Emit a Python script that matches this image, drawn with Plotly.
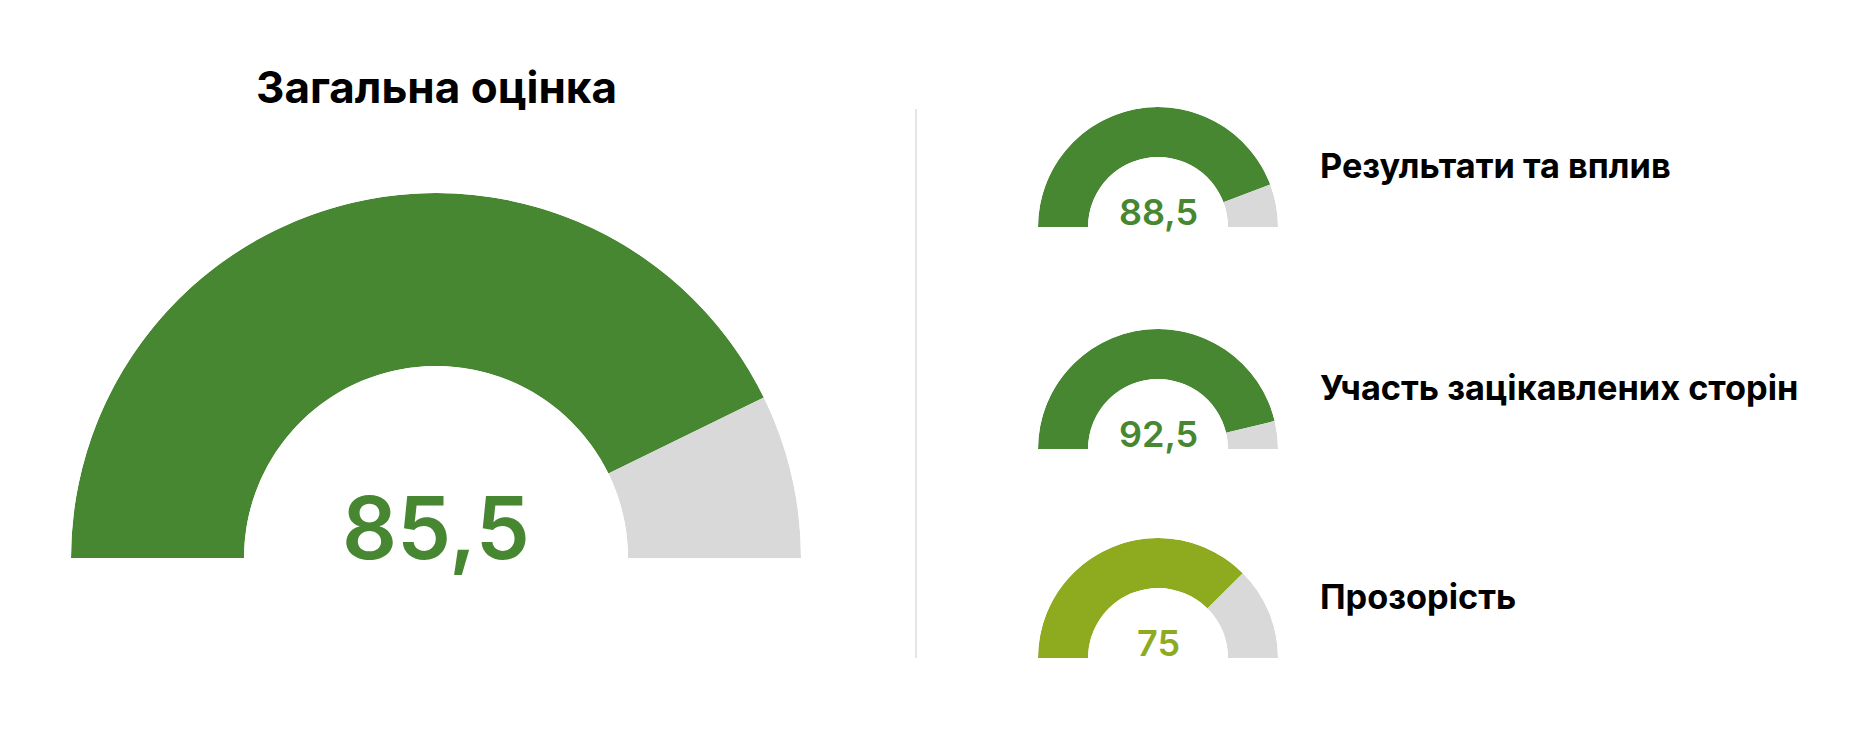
import plotly.graph_objects as go

# data
titles = ["Загальна оцінка", "Результати та вплив", "Участь зацікавлених сторін", "Прозорість"]
scores = [85.5, 88.5, 92.5, 75]
max_score = 100

W, H = 1868, 734
PAGE_MARGIN = 8  # default body margin of the html page
GREEN = "#488732"
LIME = "#8eab1f"
GRAY = "#d9d9d9"
FONT = "Inter"


def fx(px):
    return (px - PAGE_MARGIN) / W


def fy(px):
    # pixels from top of window -> paper
    return 1 - (px - PAGE_MARGIN) / H


def score_color(v):
    return GREEN if v >= 80 else LIME


def fmt(v):
    return ("%g" % v).replace(".", ",")


# gauge geometry in pixels: (center x, baseline y, outer radius, hole)
gauges = [
    (436, 558, 365, 0.526),
    (1158, 227, 120, 0.583),
    (1158, 449, 120, 0.583),
    (1158, 658, 120, 0.583),
]

fig = go.Figure()
layout_polars = {}
for i, (v, (cx, by, r, hole)) in enumerate(zip(scores, gauges)):
    name = "polar" if i == 0 else "polar%d" % (i + 1)
    rest = max_score - v
    fig.add_trace(
        go.Barpolar(
            r=[1, 1],
            theta=[v * 0.9, (v + rest / 2) * 1.8],
            width=[v * 1.8, rest * 1.8],
            marker=dict(color=[score_color(v), GRAY], line=dict(width=0)),
            subplot=name,
            hoverinfo="skip",
            showlegend=False,
        )
    )
    layout_polars[name] = dict(
        domain=dict(x=[fx(cx - r), fx(cx + r)], y=[fy(by), fy(by - r)]),
        sector=[0, 180],
        hole=hole,
        bgcolor="rgba(0,0,0,0)",
        radialaxis=dict(range=[0, 1], visible=False, showgrid=False),
        angularaxis=dict(
            direction="clockwise",
            rotation=180,
            visible=False,
            showgrid=False,
            showline=False,
        ),
    )

annotations = []
# main title
annotations.append(dict(
    text=titles[0], x=fx(436), y=fy(87), xref="paper", yref="paper",
    xanchor="center", yanchor="middle", showarrow=False,
    font=dict(family=FONT, size=44, weight=700, color="#000000"),
))
# big number
annotations.append(dict(
    text=fmt(scores[0]), x=fx(436), y=fy(528), xref="paper", yref="paper",
    xanchor="center", yanchor="middle", showarrow=False,
    font=dict(family=FONT, size=86, weight=600, color=score_color(scores[0])),
))
for t, v, (cx, by, r, hole) in zip(titles[1:], scores[1:], gauges[1:]):
    annotations.append(dict(
        text=fmt(v), x=fx(cx), y=fy(by - 15), xref="paper", yref="paper",
        xanchor="center", yanchor="middle", showarrow=False,
        font=dict(family=FONT, size=36, weight=600, color=score_color(v)),
    ))
    annotations.append(dict(
        text=t, x=fx(1318), y=fy(by - r / 2 - 2), xref="paper", yref="paper",
        xanchor="left", yanchor="middle", showarrow=False,
        font=dict(family=FONT, size=34.3, weight=700, color="#000000"),
    ))

fig.update_layout(
    width=W,
    height=H,
    margin=dict(l=0, r=0, t=0, b=0),
    paper_bgcolor="white",
    plot_bgcolor="white",
    annotations=annotations,
    shapes=[dict(
        type="line", xref="paper", yref="paper",
        x0=fx(916), x1=fx(916), y0=fy(109), y1=fy(658),
        line=dict(color="#dcdcdc", width=1.5),
    )],
    **layout_polars,
)

fig.write_html("out.html")
